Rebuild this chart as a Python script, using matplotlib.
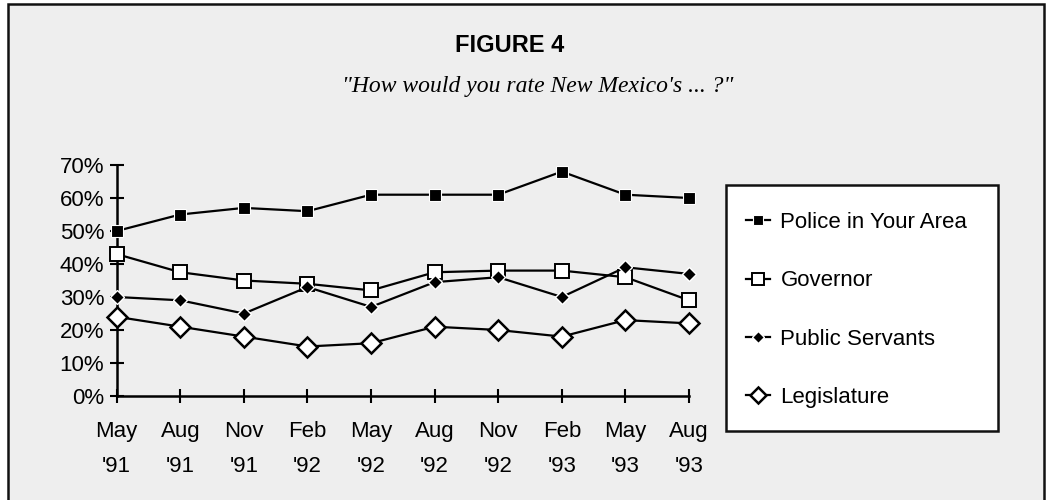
import matplotlib
matplotlib.use("Agg")
import matplotlib.pyplot as plt
from matplotlib.patches import Rectangle
from matplotlib.ticker import FuncFormatter

periods = ["May\n'91", "Aug\n'91", "Nov\n'91", "Feb\n'92", "May\n'92",
           "Aug\n'92", "Nov\n'92", "Feb\n'93", "May\n'93", "Aug\n'93"]
police = [50, 55, 57, 56, 61, 61, 61, 68, 61, 60]
governor = [43, 37.5, 35, 34, 32, 37.5, 38, 38, 36, 29]
public_servants = [30, 29, 25, 33, 27, 34.5, 36, 30, 39, 37]
legislature = [24, 21, 18, 15, 16, 21, 20, 18, 23, 22]
y_ticks = [0, 10, 20, 30, 40, 50, 60, 70]

W, H = 1047, 500
fig = plt.figure(figsize=(W / 100, H / 100), dpi=100)
fig.patch.set_facecolor("white")

# outer bordered panel
fig.patches.append(Rectangle((8 / W, -0.02), (1044 - 8) / W, (500 - 4) / H + 0.02,
                             transform=fig.transFigure, facecolor="#eeeeee",
                             edgecolor="#111111", linewidth=1.8, zorder=-5))

fig.text(510 / W, 1 - 46 / H, "FIGURE 4", ha="center", va="center",
         fontsize=17, fontweight="bold", family="Liberation Sans")
fig.text(538 / W, 1 - 87 / H, "\"How would you rate New Mexico's ... ?\"",
         ha="center", va="center", fontsize=17, style="italic",
         family="Liberation Serif")

ax = fig.add_axes([116.7 / W, 1 - 396 / H, (689 - 116.7) / W, (396 - 165) / H])
ax.set_facecolor("none")
x = list(range(len(periods)))

ax.plot(x, police, color="black", lw=1.6, marker="s", markersize=8.5,
        markerfacecolor="black", markeredgecolor="white", markeredgewidth=0.8,
        label="Police in Your Area", zorder=4, clip_on=False)
ax.plot(x, governor, color="black", lw=1.6, marker="s", markersize=10,
        markerfacecolor="white", markeredgecolor="black", markeredgewidth=1.4,
        label="Governor", zorder=3, clip_on=False)
ax.plot(x, public_servants, color="black", lw=1.6, marker="D", markersize=7,
        markerfacecolor="black", markeredgecolor="white", markeredgewidth=1.0,
        label="Public Servants", zorder=5, clip_on=False)
ax.plot(x, legislature, color="black", lw=1.6, marker="D", markersize=10,
        markerfacecolor="white", markeredgecolor="black", markeredgewidth=1.8,
        label="Legislature", zorder=3, clip_on=False)

ax.set_xlim(0, len(periods) - 1)
ax.set_ylim(0, 70)
ax.set_xticks(x)
ax.set_xticklabels(periods, fontsize=16, family="Liberation Sans", linespacing=1.85)
ax.set_yticks(y_ticks)
ax.yaxis.set_major_formatter(FuncFormatter(lambda v, p: f"{int(v)}%"))
for lab in ax.get_yticklabels():
    lab.set_family("Liberation Sans")
ax.tick_params(axis="y", labelsize=16, direction="inout", length=10, width=1.5, pad=4)
ax.tick_params(axis="x", labelsize=16, direction="inout", length=10, width=1.5, pad=13)
for s in ["top", "right"]:
    ax.spines[s].set_visible(False)
for s in ["left", "bottom"]:
    ax.spines[s].set_linewidth(1.8)

# legend box
fig.patches.append(Rectangle((726 / W, 1 - 431 / H), (998 - 726) / W, (431 - 185) / H,
                             transform=fig.transFigure, facecolor="white",
                             edgecolor="#111111", linewidth=1.8, zorder=1))
leg = fig.legend(loc="upper left", bbox_to_anchor=(726 / W, 1 - 192 / H),
                 frameon=False, prop={"family": "Liberation Sans", "size": 16},
                 labelspacing=1.68, handlelength=1.1, handletextpad=0.45)
for h in leg.legend_handles:
    h.set_markersize(h.get_markersize() * 0.85)

fig.savefig("out.png", dpi=100)
